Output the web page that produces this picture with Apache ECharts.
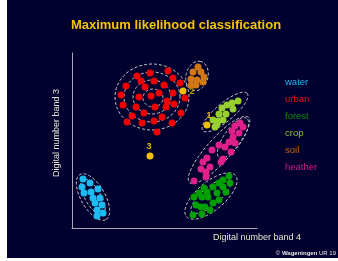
<!DOCTYPE html>
<html>
<head>
<meta charset="utf-8">
<script src="https://cdn.jsdelivr.net/npm/echarts@6/dist/echarts.min.js"></script>
<style>
  html, body { margin: 0; padding: 0; background: #fff; }
  #chart { width: 338px; height: 261px; }
</style>
</head>
<body>
<div id="chart"></div>
<script>
// band 4 / band 3 digital numbers
const water = [[11,49],[18,45],[10,41],[26,39],[12,35],[19,36],[21,30],[28,30],[23,25],[30,23],[25,18],[31,15],[25,12]]
const urban = [[78,155],[96,157],[65,152],[69,147],[82,147],[101,150],[108,145],[54,142],[73,141],[92,143],
  [87,135],[101,135],[49,133],[67,131],[79,132],[113,130],[95,127],[51,123],[64,121],[83,121],[94,121],
  [102,124],[72,115],[109,115],[60,112],[90,111],[55,106],[70,105],[82,107],[100,105],[85,96]]
const forest = [[157,52],[151,48],[158,45],[147,45],[141,41],[151,41],[154,36],[132,40],[135,36],[145,35],
  [127,35],[122,31],[130,31],[136,31],[147,28],[141,25],[124,23],[129,21],[133,21],[138,18],[121,13],[130,14]]
const crop = [[166,127],[160,125],[155,123],[150,120],[161,119],[147,114],[154,114],[141,108],[146,107],[151,108],[143,101],[145,104]]
const soil = [[126,161],[121,156],[129,156],[132,151],[119,149],[125,148],[131,146],[119,143],[124,143]]
const heather = [[168,105],[163,102],[171,101],[160,97],[167,95],[161,91],[157,86],[163,85],[147,83],[153,81],
  [159,76],[140,78],[151,69],[149,66],[135,70],[131,66],[138,61],[129,59],[134,56],[134,51],[122,47]]
// unknown pixels: x, y, number
const unknown = [[135,103,'1'],[111,137,'2'],[78,72,'3']]
// where each number is written relative to its dot (px)
const unknownLabelOffset = [[2, -9], [9, 1], [-1, -9]]

// class ellipses: centre x, centre y, semi-axis a, semi-axis b, angle (deg)
const ellipses = [
  [80,131,37,33,0],[80,131,28,25,0],[80,131,19,17,0],[81,130,10,9,0],
  [125,152,15,11,75],
  [153,116,29,9,40],
  [147,78,44,12,48],[161,90,24,9,55],
  [139,32,32,14,40],[139,32,25,9,40],
  [21,31,26,12,-60],[21,31,20,8,-60]
]

const classNames = ['water', 'urban', 'forest', 'crop', 'soil', 'heather']
const classColors = ['#1cbcf2', '#f00000', '#00a000', '#98d030', '#d07814', '#e0208a']
const legendColors = ['#18b4ee', '#e81010', '#0a8a0a', '#90c030', '#c86414', '#d01888']
const classData = [water, urban, forest, crop, soil, heather]

var chart = echarts.init(document.getElementById('chart'))

function renderEllipse(params, api) {
  let c = api.coord([api.value(0), api.value(1)])
  let s = api.size([api.value(2), api.value(3)])
  let a = api.value(4) * Math.PI / 180
  let pts = []
  for (let i = 0; i < 72; i++) {
    let t = i / 72 * Math.PI * 2
    let ex = s[0] * Math.cos(t)
    let ey = s[1] * Math.sin(t)
    pts.push([c[0] + ex * Math.cos(a) - ey * Math.sin(a), c[1] - (ex * Math.sin(a) + ey * Math.cos(a))])
  }
  return {
    type: 'polygon',
    shape: { points: pts },
    style: { fill: 'none', stroke: '#c8c8c8', lineWidth: 1, lineDash: [3, 2] }
  }
}

function renderUnknown(params, api) {
  let c = api.coord([api.value(0), api.value(1)])
  let off = unknownLabelOffset[params.dataIndex]
  let num = unknown[params.dataIndex][2]
  return {
    type: 'group',
    children: [
      { type: 'circle', shape: { cx: c[0], cy: c[1], r: 3.5 }, style: { fill: '#f0c000' } },
      {
        type: 'text', x: c[0] + off[0], y: c[1] + off[1],
        style: {
          text: num, fill: num === '2' ? '#c09000' : '#e8b800', fontSize: 9, fontWeight: 'bold',
          fontFamily: 'Liberation Sans', align: 'center', verticalAlign: 'middle'
        }
      }
    ]
  }
}

let series = classNames.map((name, i) => ({
  name: name,
  type: 'scatter',
  data: classData[i],
  symbolSize: 7,
  itemStyle: { color: classColors[i], opacity: 1 },
  z: 3
}))

series.push({
  name: 'unknown',
  type: 'custom',
  data: unknown.map(u => [u[0], u[1]]),
  encode: { x: 0, y: 1 },
  renderItem: renderUnknown,
  z: 6
})

series.push({
  name: 'ellipses',
  type: 'custom',
  data: ellipses,
  encode: { x: 0, y: 1 },
  renderItem: renderEllipse,
  silent: true,
  z: 2
})

chart.setOption({
  backgroundColor: '#fff',
  animation: false,
  title: {
    text: 'Maximum likelihood classification',
    left: 171,
    top: 14,
    textAlign: 'center',
    textStyle: { color: '#f5c400', fontSize: 13, fontWeight: 'bold', fontFamily: 'Liberation Sans' }
  },
  legend: {
    data: classNames.map((n, i) => ({ name: n, textStyle: { color: legendColors[i] } })),
    orient: 'vertical',
    left: 275,
    top: 72,
    itemWidth: 0,
    itemHeight: 10,
    itemGap: 7,
    icon: 'rect',
    textStyle: { fontSize: 9.5, fontFamily: 'Liberation Sans' }
  },
  grid: { left: 72, top: 53, width: 185, height: 175 },
  xAxis: {
    type: 'value', min: 0, max: 185,
    axisLine: { show: true, lineStyle: { color: '#a8a8b8', width: 1 } },
    axisTick: { show: false }, axisLabel: { show: false }, splitLine: { show: false }
  },
  yAxis: {
    type: 'value', min: 0, max: 175,
    axisLine: { show: true, lineStyle: { color: '#a8a8b8', width: 1 } },
    axisTick: { show: false }, axisLabel: { show: false }, splitLine: { show: false }
  },
  graphic: [
    { type: 'rect', shape: { x: 7, y: 0, width: 331, height: 258 }, style: { fill: '#02002e' }, z: -10, silent: true },
    {
      type: 'text', x: 257, y: 238,
      style: { text: 'Digital number band 4', fill: '#e6e6d2', fontSize: 9, fontFamily: 'Liberation Sans', align: 'center', verticalAlign: 'middle' }
    },
    {
      type: 'text', x: 57, y: 133, rotation: Math.PI / 2,
      style: { text: 'Digital number band 3', fill: '#e6e6d2', fontSize: 9, fontFamily: 'Liberation Sans', align: 'center', verticalAlign: 'middle' }
    },
    {
      type: 'text', x: 336, y: 253,
      style: {
        text: '© {b|Wageningen} UR 19',
        rich: { b: { fontWeight: 'bold', fontSize: 6, fill: '#e6e6e6', fontFamily: 'Liberation Sans' } },
        fill: '#e6e6e6', fontSize: 6, fontFamily: 'Liberation Sans', align: 'right', verticalAlign: 'middle'
      }
    }
  ],
  series: series
})
</script>
</body>
</html>
